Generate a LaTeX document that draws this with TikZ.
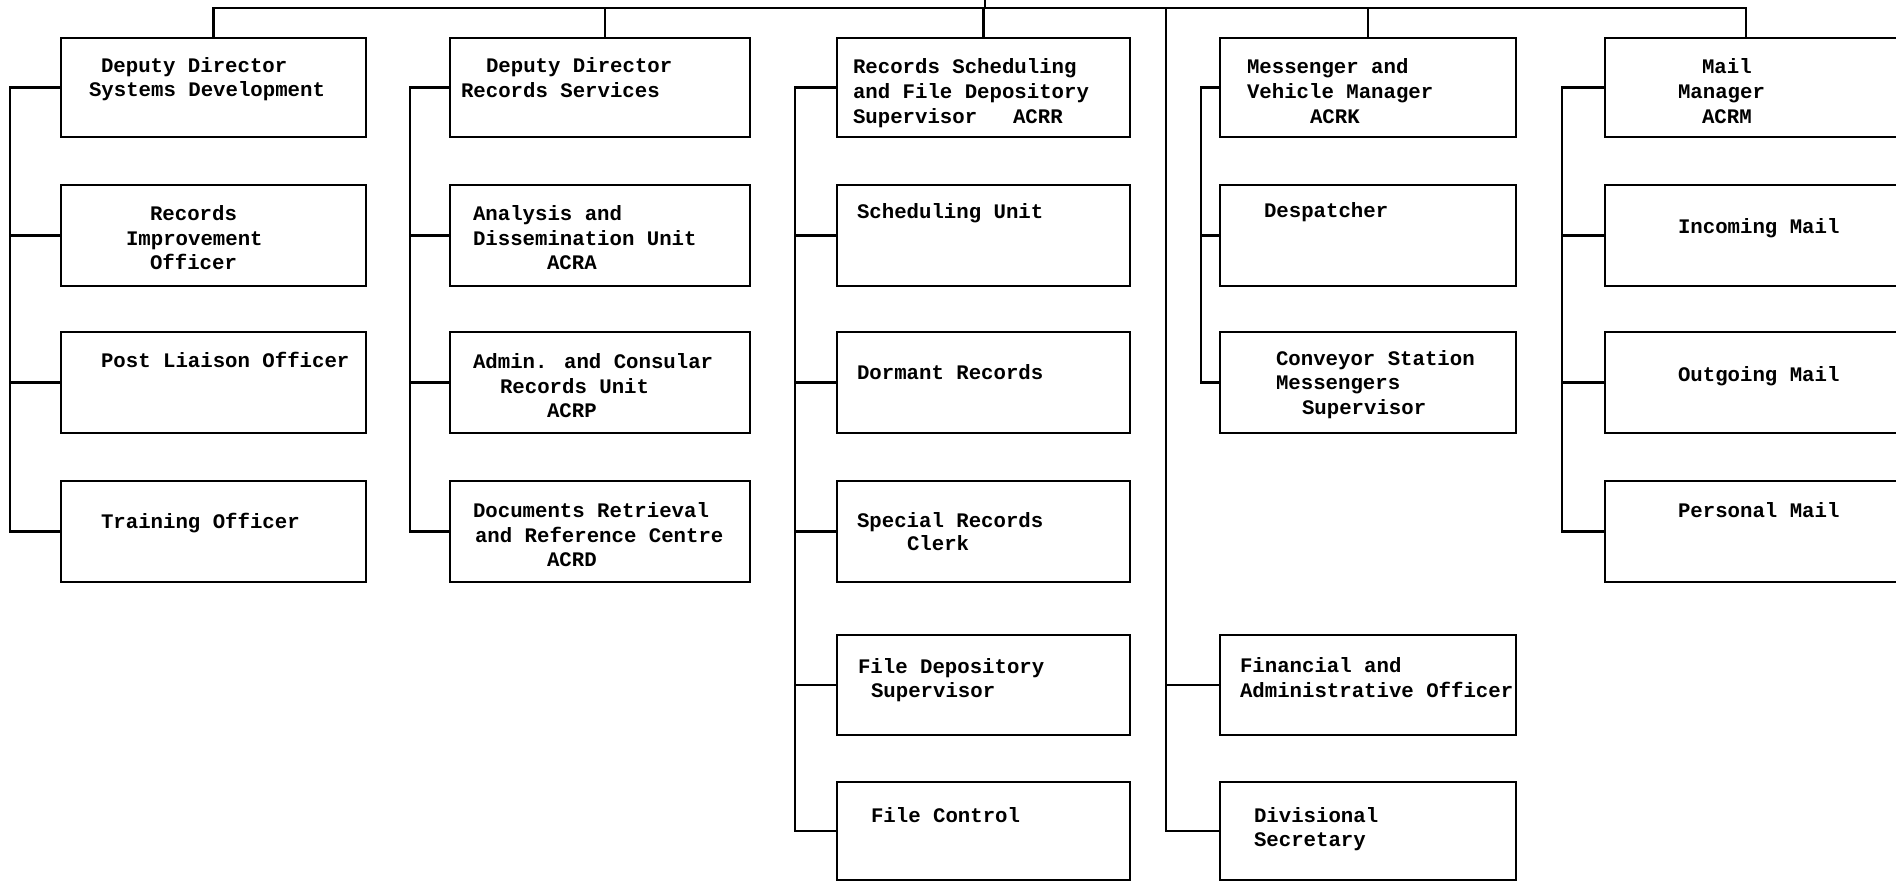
\documentclass[tikz,border=0pt]{standalone}
\usepackage{fontspec}
\newfontfamily\twf{Liberation Mono}
\tikzset{
  box/.style={draw=black, line width=2.8pt, rectangle, inner sep=0pt, outer sep=0pt},
  conn/.style={draw=black, line width=2.8pt},
  txt/.style={anchor=base west, inner sep=0pt, outer sep=0pt, text=black,
              font={\twf\bfseries\fontsize{20.7pt}{25pt}\selectfont}}
}
\newcommand\bx[5]{\node[box, minimum width={#4-#2}, minimum height={#5-#3}] (#1) at ({(#2+#4)/2},{(#3+#5)/2}) {};}
\newcommand\tline[4]{\node[txt] (#1) at (#2,#3) {#4};}
\begin{document}
\begin{tikzpicture}[x=1pt,y=-1pt]
\useasboundingbox (0,0) rectangle (1896,881);
\fill[white] (0,0) rectangle (1896,881);
\clip (0,0) rectangle (1896,881);
% column 1
\bx{b11}{61}{38}{366}{137}
\bx{b12}{61}{185}{366}{286}
\bx{b13}{61}{332}{366}{433}
\bx{b14}{61}{481}{366}{582}
% column 2
\bx{b21}{450}{38}{750}{137}
\bx{b22}{450}{185}{750}{286}
\bx{b23}{450}{332}{750}{433}
\bx{b24}{450}{481}{750}{582}
% column 3
\bx{b31}{837}{38}{1130}{137}
\bx{b32}{837}{185}{1130}{286}
\bx{b33}{837}{332}{1130}{433}
\bx{b34}{837}{481}{1130}{582}
\bx{b35}{837}{635}{1130}{735}
\bx{b36}{837}{782}{1130}{880}
% column 4
\bx{b41}{1220}{38}{1516}{137}
\bx{b42}{1220}{185}{1516}{286}
\bx{b43}{1220}{332}{1516}{433}
\bx{b44}{1220}{635}{1516}{735}
\bx{b45}{1220}{782}{1516}{880}
% column 5
\bx{b51}{1605}{38}{1905}{137}
\bx{b52}{1605}{185}{1905}{286}
\bx{b53}{1605}{332}{1905}{433}
\bx{b54}{1605}{481}{1905}{582}
% top connectors
\coordinate (apex) at (985,-3);
\coordinate (tl) at (985,8);
\coordinate (m5) at ([xshift=141pt]b51.north west);
\coordinate (m2) at ([xshift=5pt]b21.north);
\draw[conn] (apex) -- (tl);
\draw[conn] (b11.north) -- (b11.north |- tl) -- (m5 |- tl) -- (m5);
\draw[conn] (m2) -- (m2 |- tl);
\draw[conn] (b31.north) -- (b31.north |- tl);
\draw[conn] (b41.north) -- (b41.north |- tl);
% spines
\coordinate (s1) at (10,0);
\coordinate (s2) at (410,0);
\coordinate (s3) at (795,0);
\coordinate (s4) at (1201,0);
\coordinate (s4b) at (1166,8);
\coordinate (s5) at (1562,0);
\draw[conn] (b11.west) -- (b11.west -| s1) -- (b14.west -| s1) -- (b14.west);
\draw[conn] (b12.west) -- (b12.west -| s1);
\draw[conn] (b13.west) -- (b13.west -| s1);
\draw[conn] (b21.west) -- (b21.west -| s2) -- (b24.west -| s2) -- (b24.west);
\draw[conn] (b22.west) -- (b22.west -| s2);
\draw[conn] (b23.west) -- (b23.west -| s2);
\draw[conn] (b31.west) -- (b31.west -| s3) -- (b36.west -| s3) -- (b36.west);
\draw[conn] (b32.west) -- (b32.west -| s3);
\draw[conn] (b33.west) -- (b33.west -| s3);
\draw[conn] (b34.west) -- (b34.west -| s3);
\draw[conn] (b35.west) -- (b35.west -| s3);
\draw[conn] (b41.west) -- (b41.west -| s4) -- (b43.west -| s4) -- (b43.west);
\draw[conn] (b42.west) -- (b42.west -| s4);
\draw[conn] (s4b) -- (b45.west -| s4b) -- (b45.west);
\draw[conn] (b44.west) -- (b44.west -| s4b);
\draw[conn] (b51.west) -- (b51.west -| s5) -- (b54.west -| s5) -- (b54.west);
\draw[conn] (b52.west) -- (b52.west -| s5);
\draw[conn] (b53.west) -- (b53.west -| s5);
% texts
\tline{t11a}{101}{72}{Deputy Director}
\tline{t11b}{89}{96}{Systems Development}
\tline{t12a}{150}{220}{Records}
\tline{t12b}{126}{245}{Improvement}
\tline{t12c}{150}{269}{Officer}
\tline{t13a}{101}{367}{Post Liaison Officer}
\tline{t14a}{101}{528}{Training Officer}
\tline{t21a}{486}{72}{Deputy Director}
\tline{t21b}{461}{97}{Records Services}
\tline{t22a}{473}{220}{Analysis and}
\tline{t22b}{473}{245}{Dissemination Unit}
\tline{t22c}{547}{269}{ACRA}
\tline{t23a}{473}{368}{Admin. and Consular}
\tline{t23b}{500}{393}{Records Unit}
\tline{t23c}{547}{417}{ACRP}
\tline{t24a}{473}{517}{Documents Retrieval}
\tline{t24b}{475}{542}{and Reference Centre}
\tline{t24c}{547}{566}{ACRD}
\tline{t31a}{853}{73}{Records Scheduling}
\tline{t31b}{853}{98}{and File Depository}
\tline{t31c}{853}{123}{Supervisor}
\tline{t31d}{1013}{123}{ACRR}
\tline{t32a}{857}{218}{Scheduling Unit}
\tline{t33a}{857}{379}{Dormant Records}
\tline{t34a}{857}{527}{Special Records}
\tline{t34b}{907}{550}{Clerk}
\tline{t35a}{858}{673}{File Depository}
\tline{t35b}{871}{697}{Supervisor}
\tline{t36a}{871}{822}{File Control}
\tline{t41a}{1247}{73}{Messenger and}
\tline{t41b}{1247}{98}{Vehicle Manager}
\tline{t41c}{1310}{123}{ACRK}
\tline{t42a}{1264}{217}{Despatcher}
\tline{t43a}{1276}{365}{Conveyor Station}
\tline{t43b}{1276}{389}{Messengers}
\tline{t43c}{1302}{414}{Supervisor}
\tline{t44a}{1240}{672}{Financial and}
\tline{t44b}{1240}{697}{Administrative Officer}
\tline{t45a}{1254}{822}{Divisional}
\tline{t45b}{1254}{846}{Secretary}
\tline{t51a}{1702}{73}{Mail}
\tline{t51b}{1678}{98}{Manager}
\tline{t51c}{1702}{123}{ACRM}
\tline{t52a}{1678}{233}{Incoming Mail}
\tline{t53a}{1678}{381}{Outgoing Mail}
\tline{t54a}{1678}{517}{Personal Mail}
\end{tikzpicture}
\end{document}
